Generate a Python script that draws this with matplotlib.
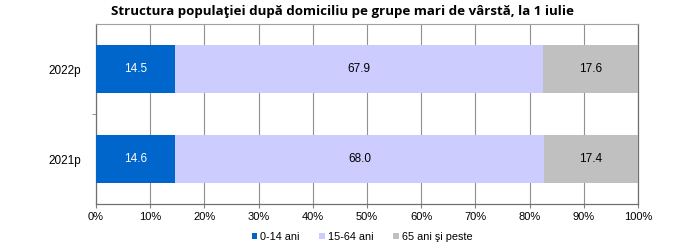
import matplotlib
matplotlib.use("Agg")
import matplotlib.pyplot as plt
from matplotlib.ticker import PercentFormatter

years = ["2021p", "2022p"]
groups = ["0-14 ani", "15-64 ani", "65 ani şi peste"]
shares = {
    "0-14 ani": [14.6, 14.5],
    "15-64 ani": [68.0, 67.9],
    "65 ani şi peste": [17.4, 17.6],
}
colors = ["#0066CC", "#CCCCFF", "#C0C0C0"]
label_colors = ["white", "black", "black"]

plt.rcParams["font.family"] = ["Liberation Sans", "DejaVu Sans"]

fig = plt.figure(figsize=(6.99, 2.48), dpi=100)
ax = fig.add_axes([0.1373, 0.1774, 0.7754, 0.7258])

left = [0.0] * len(years)
for g, c, lc in zip(groups, colors, label_colors):
    vals = shares[g]
    ax.barh(range(len(years)), vals, left=left, height=0.53,
            color=c, label=g, zorder=3)
    for i, v in enumerate(vals):
        ax.text(left[i] + v / 2, i, f"{v:.1f}", ha="center", va="center",
                fontsize=8.5, color=lc, zorder=4)
    left = [l + v for l, v in zip(left, vals)]

ax.set_xlim(0, 100)
ax.set_ylim(-0.5, 1.5)
ax.set_xticks(range(0, 101, 10))
ax.xaxis.set_major_formatter(PercentFormatter(decimals=0))
ax.set_yticks([0, 1])
ax.set_yticklabels(years)
ax.set_yticks([0.5], minor=True)
ax.tick_params(axis="y", which="major", length=0, pad=11, labelsize=8.5)
ax.tick_params(axis="y", which="minor", length=3, color="#808080")
ax.tick_params(axis="x", length=3, color="#808080", labelsize=8, pad=3)

ax.grid(axis="x", color="#909090", linewidth=0.8, zorder=0)
for side in ["left", "bottom", "right"]:
    ax.spines[side].set_color("#707070")
    ax.spines[side].set_linewidth(0.9)
ax.spines["top"].set_color("#A0A0A0")
ax.spines["top"].set_linewidth(0.8)

fig.text(0.49, 0.952, "Structura populaţiei după domiciliu pe grupe mari de vârstă, la 1 iulie",
         ha="center", va="center", fontsize=9.6, fontweight="bold",
         family=["Open Sans", "DejaVu Sans"])

fig.legend(loc="center", bbox_to_anchor=(0.518, 0.045), ncol=3, frameon=False,
           fontsize=7.8, handlelength=0.5, handleheight=0.5, handletextpad=0.3,
           columnspacing=1.8)

fig.savefig("out.png", dpi=100)
